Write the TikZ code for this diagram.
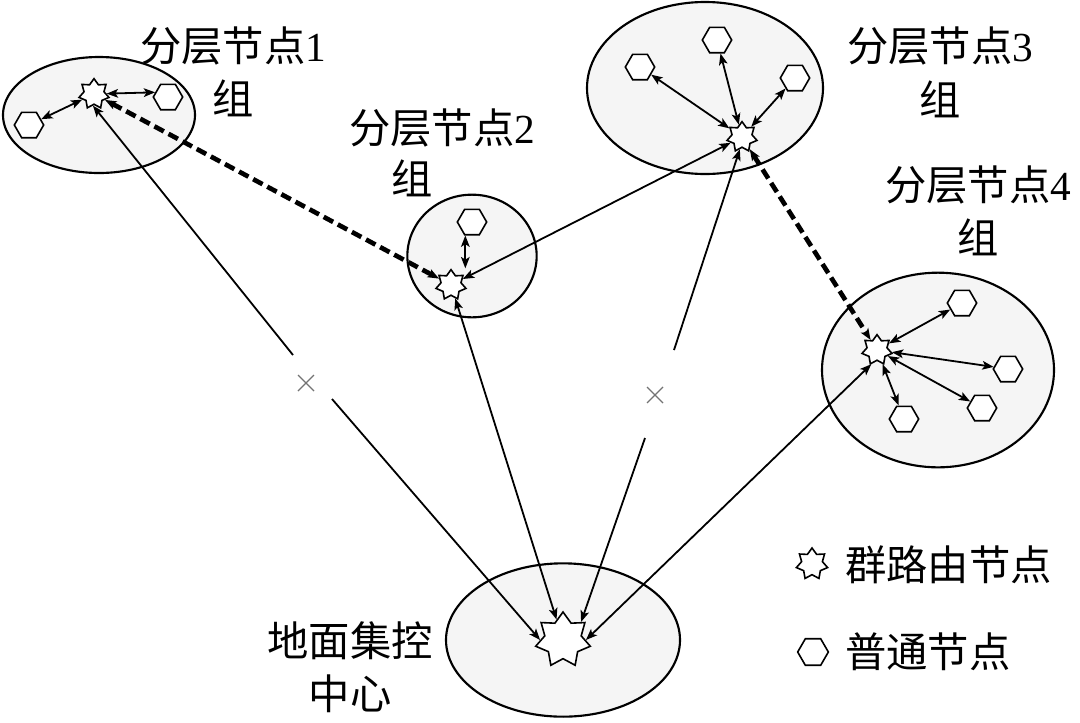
\documentclass[tikz,border=0pt]{standalone}
\usepackage{fontspec}
\setmainfont{Liberation Serif}
\newfontfamily\cjk{Noto Sans CJK SC}
\usetikzlibrary{shapes.geometric,shapes.misc,arrows.meta}
\begin{document}
\begin{tikzpicture}[x=0.75pt,y=-0.75pt,
  >={Stealth[length=8.5pt,width=6.5pt,inset=2pt]},
  grp/.style={ellipse,draw,line width=1.6pt,fill=black!4,inner sep=0},
  rstar/.style={star,star points=7,star point ratio=1.5,draw,fill=white,line width=1.2pt,inner sep=0,minimum size=23pt},
  hexn/.style={regular polygon,regular polygon sides=6,draw,fill=white,line width=1.2pt,inner sep=0,minimum size=22pt},
  link/.style={<->,line width=1.35pt},
  half/.style={->,line width=1.35pt},
  dlink/.style={<->,line width=3.5pt,dash pattern=on 8pt off 4pt},
  xmark/.style={cross out,draw=black!55,line width=1pt,minimum size=11pt,inner sep=0},
  lab/.style={font=\fontsize{31}{40}\selectfont,inner sep=0,align=center}]
\useasboundingbox (0,0) rectangle (1080,722);

% group ellipses
\node[grp,minimum width=144pt,minimum height=87pt] (e1) at (99,115) {};
\node[grp,minimum width=97pt,minimum height=92pt] (e2) at (472,256) {};
\node[grp,minimum width=177pt,minimum height=129pt] (e3) at (705,88) {};
\node[grp,minimum width=174pt,minimum height=146pt] (e4) at (938,370) {};
\node[grp,minimum width=175.5pt,minimum height=115pt] (e0) at (563,640) {};

% routing nodes
\node[rstar] (g1s) at (94,94) {};
\node[rstar] (g2s) at (451,285) {};
\node[rstar] (g3s) at (742,137) {};
\node[rstar] (g4s) at (877,350) {};
\node[rstar,minimum size=42pt] (gs) at (563,640) {};

% ordinary nodes
\node[hexn] (h11) at (29,125) {};
\node[hexn] (h12) at (168,97) {};
\node[hexn] (h21) at (472,222) {};
\node[hexn] (h31) at (640,67) {};
\node[hexn] (h32) at (717,40) {};
\node[hexn] (h33) at (795,78) {};
\node[hexn] (h41) at (962,303) {};
\node[hexn] (h42) at (1008,369) {};
\node[hexn] (h43) at (982,408) {};
\node[hexn] (h44) at (904,419) {};

% gap points and failure marks
\coordinate (c1a) at (293,355);
\coordinate (c1b) at (332,399);
\coordinate (c3a) at (674,350);
\coordinate (c3b) at (645,438);
\node[xmark] (x1) at (306,383) {};
\node[xmark] (x3) at (655,395) {};

% links inside groups
\draw[link] (g1s) -- (h11);
\draw[link] (g1s) -- (h12.160);
\draw[link] ([xshift=-5pt]h21.south) -- ([xshift=-5pt]h21.south |- g2s.north);
\draw[link] (g3s) -- (h31);
\draw[link] (g3s) -- (h32);
\draw[link] (g3s) -- (h33);
\draw[link] (g4s) -- (h41);
\draw[link] (g4s) -- (h42);
\draw[link] (g4s) -- (h43);
\draw[link] (g4s) -- (h44);

% links between groups
\draw[dlink] (g1s) -- (g2s);
\draw[dlink] (g3s) -- (g4s);
\draw[link] (g2s) -- (g3s);
\draw[link] (g2s) -- (gs);
\draw[link] (g4s.-112) -- (gs.0);
\draw[half] (c1a) -- (g1s.-95);
\draw[half] (c1b) -- (gs.180);
\draw[half] (c3a) -- (g3s.-100);
\draw[half] (c3b) -- (gs.45);

% labels
\node[lab] (l1) at (233,71.5) {{\cjk 分层节点}1\\{\cjk 组}};
\node[lab] (l2a) at (442,128) {{\cjk 分层节点}2};
\node[lab] (l2b) at (412,178) {\cjk 组};
\node[lab] (l3) at (940,72.5) {{\cjk 分层节点}3\\{\cjk 组}};
\node[lab] (l4) at (978,210.5) {{\cjk 分层节点}4\\{\cjk 组}};
\node[lab] (l0) at (350,667.5) {\cjk 地面集控\\\cjk 中心};

% legend
\node[rstar,minimum size=24pt] (ls) at (812,564) {};
\node[lab,anchor=west] (lt1) at (845,565) {\cjk 群路由节点};
\node[hexn,minimum size=23pt] (lh) at (813,652) {};
\node[lab,anchor=west] (lt2) at (845,652) {\cjk 普通节点};
\end{tikzpicture}
\end{document}
